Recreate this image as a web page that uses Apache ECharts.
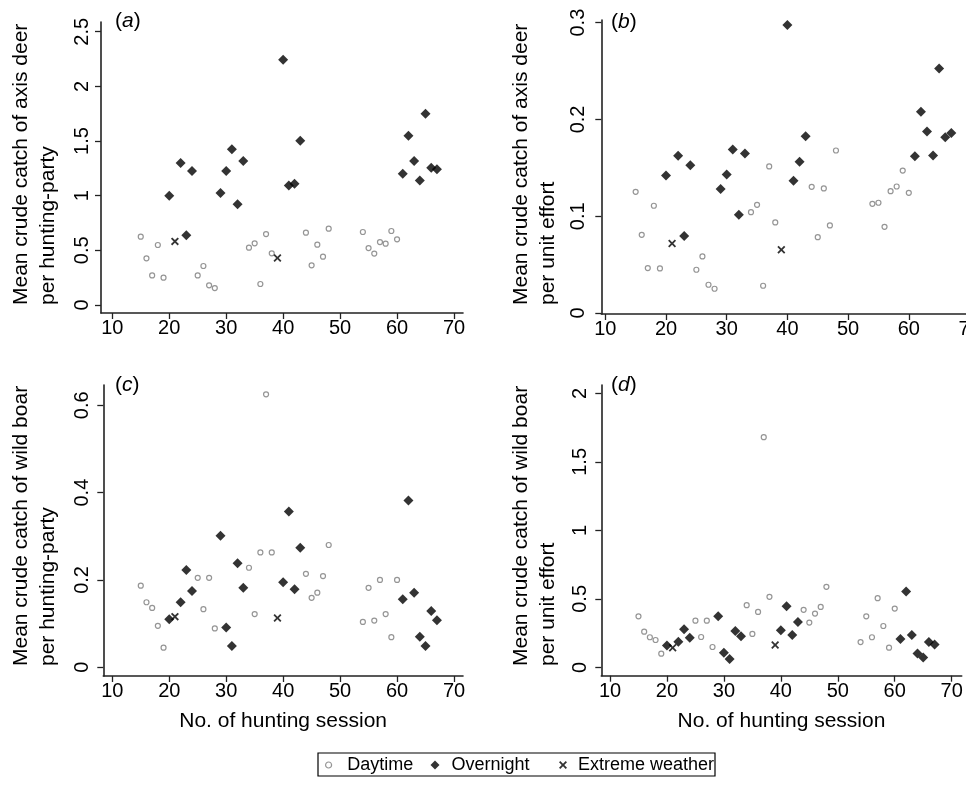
<!DOCTYPE html>
<html>
<head>
<meta charset="utf-8">
<script src="https://cdn.jsdelivr.net/npm/echarts@6/dist/echarts.min.js"></script>
<style>
html,body{margin:0;padding:0;background:#fff;}
#chart{width:966px;height:787px;}
</style>
</head>
<body>
<div id="chart"></div>
<script>
// ---- data ----
const SESSIONS_DAY = [15,16,17,18,19,25,26,27,28,34,35,36,37,38,44,45,46,47,48,54,55,56,57,58,59,60];
const SESSIONS_NIGHT = [20,22,23,24,29,30,31,32,33,40,41,42,43,61,62,63,64,65,66,67];
const SESSIONS_EXTREME = [21,39];

const A_DAY = [0.625,0.427,0.271,0.549,0.25,0.271,0.357,0.18,0.155,0.524,0.564,0.192,0.649,0.473,0.662,0.363,0.552,0.442,0.698,0.668,0.521,0.47,0.576,0.561,0.677,0.601];
const A_NIGHT = [1.0,1.299,0.637,1.226,1.024,1.226,1.424,0.921,1.317,2.244,1.094,1.11,1.503,1.201,1.549,1.317,1.14,1.75,1.256,1.241];
const A_EXT = [0.582,0.43];

const B_DAY = [0.1252,0.0808,0.0464,0.1108,0.0461,0.0447,0.0585,0.0292,0.0251,0.1042,0.1118,0.0282,0.1514,0.0936,0.1304,0.0784,0.1287,0.0905,0.1679,0.1128,0.1139,0.0891,0.1259,0.1307,0.1472,0.1242];
const B_NIGHT = [0.1421,0.1624,0.0795,0.1527,0.128,0.1431,0.1689,0.1015,0.1648,0.2976,0.1366,0.1562,0.1827,0.162,0.2078,0.1875,0.1627,0.2525,0.1816,0.1861];
const B_EXT = [0.0719,0.0654];

const C_DAY = [0.187,0.149,0.136,0.095,0.045,0.205,0.133,0.205,0.089,0.228,0.122,0.263,0.625,0.263,0.214,0.159,0.171,0.209,0.280,0.104,0.182,0.107,0.200,0.122,0.069,0.200];
const C_NIGHT = [0.110,0.149,0.223,0.175,0.301,0.091,0.049,0.238,0.182,0.195,0.357,0.179,0.274,0.156,0.382,0.171,0.070,0.049,0.129,0.108];
const C_EXT = [0.116,0.113];

const D_DAY = [0.373,0.261,0.22,0.2,0.1,0.341,0.222,0.341,0.149,0.454,0.244,0.405,1.68,0.515,0.42,0.327,0.393,0.441,0.588,0.185,0.373,0.22,0.505,0.302,0.144,0.429];
const D_NIGHT = [0.159,0.188,0.278,0.217,0.373,0.107,0.061,0.266,0.227,0.271,0.446,0.237,0.332,0.207,0.554,0.237,0.102,0.073,0.185,0.168];
const D_EXT = [0.144,0.163];

const X_TICKS = [10,20,30,40,50,60,70];
const A_Y_TICKS = [0,0.5,1,1.5,2,2.5];
const B_Y_TICKS = [0,0.1,0.2,0.3];
const C_Y_TICKS = [0,0.2,0.4,0.6];
const D_Y_TICKS = [0,0.5,1,1.5,2];

const SERIES_NAMES = ['Daytime','Overnight','Extreme weather'];
const PANEL_LETTERS = ['a','b','c','d'];
const Y_TITLES = [
  'Mean crude catch of axis deer\nper hunting-party',
  'Mean crude catch of axis deer\nper unit effort',
  'Mean crude catch of wild boar\nper hunting-party',
  'Mean crude catch of wild boar\nper unit effort'
];
const X_TITLE = 'No. of hunting session';

// ---- build ----
const FONT = '"Liberation Sans", Arial, Helvetica, sans-serif';
const AXIS_COLOR = '#222';
const X_ICON = 'path://M0,1.6L1.6,0L5,3.4L8.4,0L10,1.6L6.6,5L10,8.4L8.4,10L5,6.6L1.6,10L0,8.4L3.4,5Z';

function pairs(xs, ys){ return xs.map((x,i)=>[x, ys[i]]); }

const panelData = [
  [A_DAY, A_NIGHT, A_EXT],
  [B_DAY, B_NIGHT, B_EXT],
  [C_DAY, C_NIGHT, C_EXT],
  [D_DAY, D_NIGHT, D_EXT]
];
const yTicks = [A_Y_TICKS, B_Y_TICKS, C_Y_TICKS, D_Y_TICKS];

const gridBoxes = [
  {left:101, top:22, width:362, height:291},
  {left:601.3, top:20, width:374.7, height:294},
  {left:103.3, top:385, width:359.7, height:291},
  {left:601.3, top:385, width:360.4, height:290.7}
];
const grids = gridBoxes.map(b => Object.assign({containLabel:false, outerBoundsMode:'none'}, b));
const xRange = [[8.02,71.58],[9.34,71.07],[8.42,71.58],[8.47,71.76]];
const yRange = [[-0.0732,2.589],[-0.001,0.3027],[-0.0199,0.6464],[-0.0606,2.061]];
const yLabelMargin = [8.5,12.5,10.5,10.5];

const xAxes = [], yAxes = [], series = [];
for (let p=0;p<4;p++){
  xAxes.push({
    type:'value', gridIndex:p, min:xRange[p][0], max:xRange[p][1],
    axisLine:{show:true, onZero:false, lineStyle:{color:AXIS_COLOR, width:1.6}},
    axisTick:{show:true, length:6, inside:false, customValues:X_TICKS, lineStyle:{color:AXIS_COLOR, width:1.3}},
    axisLabel:{show:true, customValues:X_TICKS, margin:5.5, fontSize:20, fontFamily:FONT, color:'#000'},
    splitLine:{show:false},
    name: p>=2 ? X_TITLE : '',
    nameLocation:'middle', nameGap:35,
    nameTextStyle:{fontSize:21, fontFamily:FONT, color:'#000'}
  });
  yAxes.push({
    type:'value', gridIndex:p, min:yRange[p][0], max:yRange[p][1],
    axisLine:{show:true, onZero:false, lineStyle:{color:AXIS_COLOR, width:1.6}},
    axisTick:{show:true, length:6, inside:false, customValues:yTicks[p], lineStyle:{color:AXIS_COLOR, width:1.3}},
    axisLabel:{show:true, customValues:yTicks[p], rotate:90, margin:yLabelMargin[p], fontSize:20, fontFamily:FONT, color:'#000'},
    splitLine:{show:false}
  });
  const [day, night, ext] = panelData[p];
  series.push({
    name:SERIES_NAMES[0], type:'scatter', xAxisIndex:p, yAxisIndex:p,
    data:pairs(SESSIONS_DAY, day), symbol:'circle', symbolSize:5,
    itemStyle:{color:'#fff', borderColor:'#7a7a7a', borderWidth:1.2}, z:2
  });
  series.push({
    name:SERIES_NAMES[1], type:'scatter', xAxisIndex:p, yAxisIndex:p,
    data:pairs(SESSIONS_NIGHT, night), symbol:'diamond', symbolSize:10,
    itemStyle:{color:'#000'}, z:3
  });
  series.push({
    name:SERIES_NAMES[2], type:'scatter', xAxisIndex:p, yAxisIndex:p,
    data:pairs(SESSIONS_EXTREME, ext), symbol:X_ICON, symbolSize:8,
    itemStyle:{color:'#000'}, z:4
  });
}

const graphics = [];
const titleX = [35, 535, 35, 535];
const titleY = [305, 305, 666, 666];
const letterPos = [[115,21],[611,22],[115,385],[611,385]];
for (let p=0;p<4;p++){
  graphics.push({
    type:'text', x:titleX[p], y:titleY[p], rotation:Math.PI/2, silent:true,
    style:{text:Y_TITLES[p], fontSize:21, fontFamily:FONT, fill:'#000', align:'left', verticalAlign:'middle', lineHeight:27}
  });
  graphics.push({
    type:'text', x:letterPos[p][0], y:letterPos[p][1], silent:true,
    style:{
      text:'{n|(}{i|' + PANEL_LETTERS[p] + '}{n|)}',
      verticalAlign:'middle', align:'left',
      rich:{
        n:{fontSize:21, fontFamily:FONT, fill:'#000'},
        i:{fontSize:21, fontFamily:FONT, fontStyle:'italic', fill:'#000'}
      }
    }
  });
}
graphics.push({
  type:'rect', silent:true,
  shape:{x:318, y:753, width:397, height:23},
  style:{fill:'none', stroke:'#000', lineWidth:1.2}
});

const legendBase = {orient:'horizontal', top:756, padding:0, selectedMode:false};
const legends = [
  Object.assign({}, legendBase, {left:325, data:[SERIES_NAMES[0]], icon:'circle', itemWidth:6, itemHeight:6,
    itemStyle:{color:'#fff', borderColor:'#7a7a7a', borderWidth:1.2},
    textStyle:{fontSize:18, fontFamily:FONT, color:'#000', padding:[0,0,0,10.7]}}),
  Object.assign({}, legendBase, {left:430.5, data:[SERIES_NAMES[1]], icon:'diamond', itemWidth:9, itemHeight:9,
    itemStyle:{color:'#000', borderWidth:0},
    textStyle:{fontSize:18, fontFamily:FONT, color:'#000', padding:[0,0,0,7]}}),
  Object.assign({}, legendBase, {left:559, data:[SERIES_NAMES[2]], icon:X_ICON, itemWidth:8, itemHeight:8,
    itemStyle:{color:'#000', borderWidth:0},
    textStyle:{fontSize:18, fontFamily:FONT, color:'#000', padding:[0,0,0,6]}})
];

const chart = echarts.init(document.getElementById('chart'), null, {renderer:'canvas'});
chart.setOption({
  animation:false,
  backgroundColor:'#fff',
  textStyle:{fontFamily:FONT},
  grid:grids,
  xAxis:xAxes,
  yAxis:yAxes,
  series:series,
  legend:legends,
  graphic:graphics
});
</script>
</body>
</html>
